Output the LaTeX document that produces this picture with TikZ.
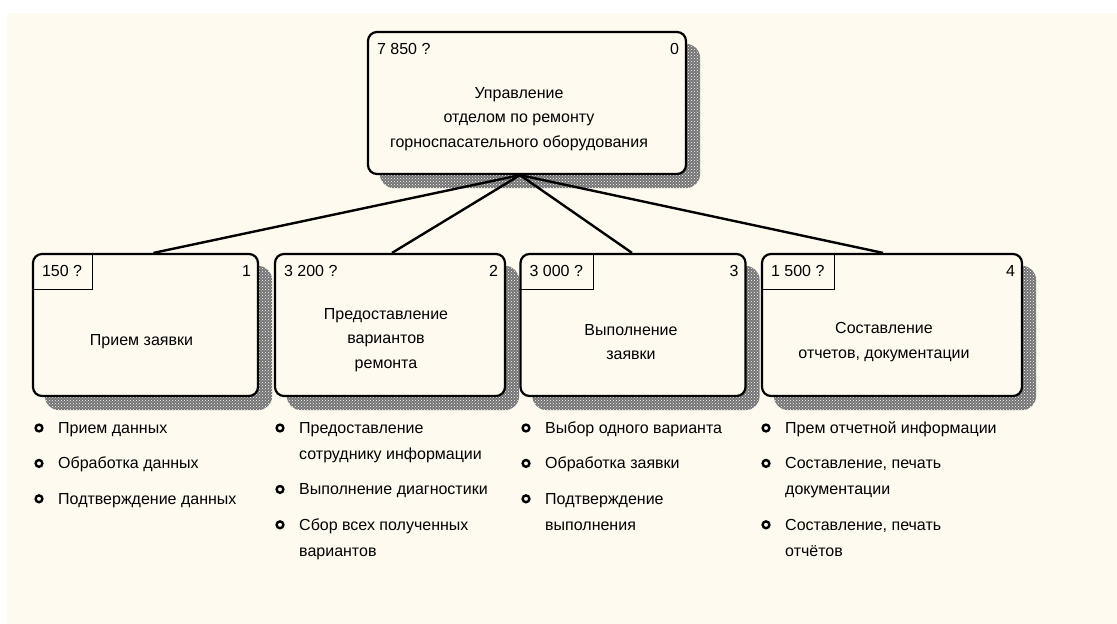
\documentclass[tikz,border=0pt]{standalone}
\usepackage{fontspec}
\setmainfont{Liberation Sans}
\usetikzlibrary{positioning,backgrounds,patterns}
\definecolor{paper}{RGB}{255,250,240}
\tikzset{%
funcbox/.style={draw,line width=2.2pt,rounded corners=9pt,fill=paper,inner sep=0,minimum height=142pt},
boxtext/.style={align=center,font=\fontsize{16}{24.5}\selectfont,inner sep=0},
costlabel/.style={anchor=north west,minimum height=36pt,inner xsep=10pt,inner ysep=0,font=\fontsize{16}{19}\selectfont},
numlabel/.style={anchor=north east,minimum height=36pt,inner xsep=8pt,inner ysep=0,font=\fontsize{16}{19}\selectfont},
costframe/.style={line width=0.8pt},
shadowfill/.style={fill=black!55,rounded corners=14pt},
shadowdots/.style={pattern=crosshatch dots,pattern color=white,rounded corners=14pt},
link/.style={line width=2.4pt},
action/.style={align=left,inner sep=0,font=\fontsize{16}{26}\selectfont},
bulletmark/.style={line width=2.4pt,fill=paper}
}

\begin{document}
\begin{tikzpicture}[x=1pt,y=-1pt]
  \useasboundingbox (0,0) rectangle (1117,624);

  % top function
  \node[funcbox,minimum width=318pt] (root) at (527,103) {};
  \node[boxtext] (root-t) at ([shift={(-8,16)}]root.center)
    {Управление\\отделом по ремонту\\горноспасательного оборудования};
  \node[costlabel] (root-c) at (root.north west) {7 850 ?};
  \node[numlabel] (root-n) at (root.north east) {0};

  % sub functions
  \node[funcbox,minimum width=225pt] (recv) at (145.5,325) {};
  \node[boxtext] (recv-t) at ([shift={(-4,17)}]recv.center) {Прием заявки};
  \node[costlabel] (recv-c) at (recv.north west) {150 ?};
  \node[numlabel] (recv-n) at (recv.north east) {1};
  \draw[costframe] (recv-c.north east) -- (recv-c.south east) -- (recv-c.south west);

  \node[funcbox,minimum width=230pt] (offer) at (390,325) {};
  \node[boxtext] (offer-t) at ([shift={(-4,15)}]offer.center)
    {Предоставление\\вариантов\\ремонта};
  \node[costlabel] (offer-c) at (offer.north west) {3 200 ?};
  \node[numlabel] (offer-n) at (offer.north east) {2};

  \node[funcbox,minimum width=225pt] (exec) at (633,325) {};
  \node[boxtext] (exec-t) at ([shift={(-2,17)}]exec.center) {Выполнение\\заявки};
  \node[costlabel] (exec-c) at (exec.north west) {3 000 ?};
  \node[numlabel] (exec-n) at (exec.north east) {3};
  \draw[costframe] (exec-c.north east) -- (exec-c.south east) -- (exec-c.south west);

  \node[funcbox,minimum width=260pt] (report) at (892,325) {};
  \node[boxtext] (report-t) at ([shift={(-8,17)}]report.center)
    {Составление\\отчетов, документации};
  \node[costlabel] (report-c) at (report.north west) {1 500 ?};
  \node[numlabel] (report-n) at (report.north east) {4};
  \draw[costframe] (report-c.north east) -- (report-c.south east) -- (report-c.south west);

  % actions
  \node[action,anchor=north west] (recv-1) at (58,415) {\strut Прием данных};
  \node[action,below right=9pt and 0pt of recv-1.south west] (recv-2) {\strut Обработка данных};
  \node[action,below right=9pt and 0pt of recv-2.south west] (recv-3) {\strut Подтверждение данных};

  \node[action,anchor=north west] (offer-1) at (299,415)
    {\strut Предоставление\\\strut сотруднику информации};
  \node[action,below right=9pt and 0pt of offer-1.south west] (offer-2) {\strut Выполнение диагностики};
  \node[action,below right=9pt and 0pt of offer-2.south west] (offer-3)
    {\strut Сбор всех полученных\\\strut вариантов};

  \node[action,anchor=north west] (exec-1) at (545,415) {\strut Выбор одного варианта};
  \node[action,below right=9pt and 0pt of exec-1.south west] (exec-2) {\strut Обработка заявки};
  \node[action,below right=9pt and 0pt of exec-2.south west] (exec-3)
    {\strut Подтверждение\\\strut выполнения};

  \node[action,anchor=north west] (report-1) at (785,415) {\strut Прем отчетной информации};
  \node[action,below right=9pt and 0pt of report-1.south west] (report-2)
    {\strut Составление, печать\\\strut документации};
  \node[action,below right=9pt and 0pt of report-2.south west] (report-3)
    {\strut Составление, печать\\\strut отчётов};

  \foreach \i in {recv-1,recv-2,recv-3,offer-1,offer-2,offer-3,exec-1,exec-2,exec-3,report-1,report-2,report-3}
    \draw[bulletmark] ([shift={(-19,13)}]\i.north west) circle (3.4pt);

  \begin{scope}[on background layer]
    \fill[paper] (7,13) rectangle (1117,624);
    % shadows
    \foreach \b in {root,recv,offer,exec,report} {
      \path[shadowfill] ([shift={(13,13)}]\b.south west) rectangle ([shift={(13,13)}]\b.north east);
      \path[shadowdots] ([shift={(13,13)}]\b.south west) rectangle ([shift={(13,13)}]\b.north east);
    }
    % links
    \coordinate (hub) at ([xshift=-7pt]root.south);
    \draw[link] (hub) -- ([xshift=8pt]recv.north);
    \draw[link] (hub) -- ([xshift=2pt]offer.north);
    \draw[link] (hub) -- ([xshift=-1pt]exec.north);
    \draw[link] (hub) -- ([xshift=-9pt]report.north);
  \end{scope}
\end{tikzpicture}
\end{document}
